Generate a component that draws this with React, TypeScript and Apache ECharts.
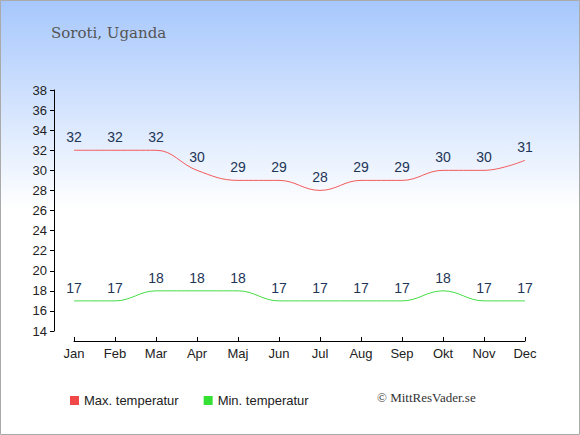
import React, { useEffect, useRef } from "react";
import * as echarts from "echarts";

const months = ["Jan", "Feb", "Mar", "Apr", "Maj", "Jun", "Jul", "Aug", "Sep", "Okt", "Nov", "Dec"];
const maxTemp = [32, 32, 32, 30, 29, 29, 28, 29, 29, 30, 30, 31];
const minTemp = [17, 17, 18, 18, 18, 17, 17, 17, 17, 18, 17, 17];
const title = "Soroti, Uganda";
const copyright = "© MittResVader.se";

export default function App() {
  const ref = useRef<HTMLDivElement>(null);
  useEffect(() => {
    document.body.style.margin = "0";
    const chart = echarts.init(ref.current!, null, { renderer: "svg" });
    const labelStyle = {
      show: true,
      position: "top" as const,
      distance: 6,
      color: "#1d3557",
      fontSize: 14,
      fontFamily: "Liberation Sans, Arial, sans-serif",
    };
    chart.setOption({
      animation: false,
      backgroundColor: {
        type: "linear",
        x: 0, y: 0, x2: 0, y2: 1,
        colorStops: [
          { offset: 0, color: "#a6c7fc" },
          { offset: 0.48, color: "#ffffff" },
          { offset: 1, color: "#ffffff" },
        ],
      },
      title: {
        text: title,
        left: 46,
        top: 20,
        textStyle: {
          fontFamily: "DejaVu Serif, Georgia, serif",
          fontWeight: "normal",
          fontSize: 15,
          color: "#555555",
        },
      },
      grid: { left: 74, right: 55, top: 90, bottom: 104 },
      xAxis: {
        type: "category",
        data: months,
        boundaryGap: false,
        offset: 10,
        axisLine: { lineStyle: { color: "#000", width: 1 } },
        axisTick: { inside: true, length: 4, alignWithLabel: true, lineStyle: { color: "#000" } },
        axisLabel: { color: "#222", fontSize: 13, fontFamily: "Liberation Sans, Arial, sans-serif", margin: 6 },
        splitLine: { show: false },
      },
      yAxis: {
        type: "value",
        min: 14,
        max: 38,
        interval: 2,
        offset: 20,
        axisLine: { show: true, lineStyle: { color: "#000", width: 1 } },
        axisTick: { show: true, length: 4, lineStyle: { color: "#000" } },
        axisLabel: { color: "#222", fontSize: 13, fontFamily: "Liberation Sans, Arial, sans-serif", margin: 7 },
        splitLine: { show: false },
      },
      legend: {
        left: 65,
        top: 389,
        itemWidth: 9,
        itemHeight: 9,
        itemGap: 25,
        icon: "rect",
        textStyle: { fontSize: 13, color: "#222", fontFamily: "Liberation Sans, Arial, sans-serif" },
        data: [
          { name: "Max. temperatur", itemStyle: { color: "#f04848" } },
          { name: "Min. temperatur", itemStyle: { color: "#33e033" } },
        ],
      },
      graphic: [
        {
          type: "text",
          left: 377,
          top: 391,
          style: {
            text: copyright,
            fontFamily: "Liberation Serif, Times New Roman, serif",
            fontSize: 13,
            fill: "#333",
          },
        },
        {
          type: "rect",
          shape: { x: 0.5, y: 0.5, width: 579, height: 434 },
          style: { fill: "none", stroke: "#aaaaaa", lineWidth: 1 },
          silent: true,
        },
      ],
      series: [
        {
          name: "Max. temperatur",
          type: "line",
          data: maxTemp,
          smooth: 0.4,
          symbol: "circle",
          symbolSize: 0,
          showSymbol: true,
          lineStyle: { color: "#f25a5a", width: 1 },
          itemStyle: { color: "#f04848" },
          label: labelStyle,
        },
        {
          name: "Min. temperatur",
          type: "line",
          data: minTemp,
          smooth: 0.4,
          symbol: "circle",
          symbolSize: 0,
          showSymbol: true,
          lineStyle: { color: "#44dd44", width: 1 },
          itemStyle: { color: "#33e033" },
          label: labelStyle,
        },
      ],
    });
    return () => chart.dispose();
  }, []);
  return <div ref={ref} style={{ width: 580, height: 435 }} />;
}
